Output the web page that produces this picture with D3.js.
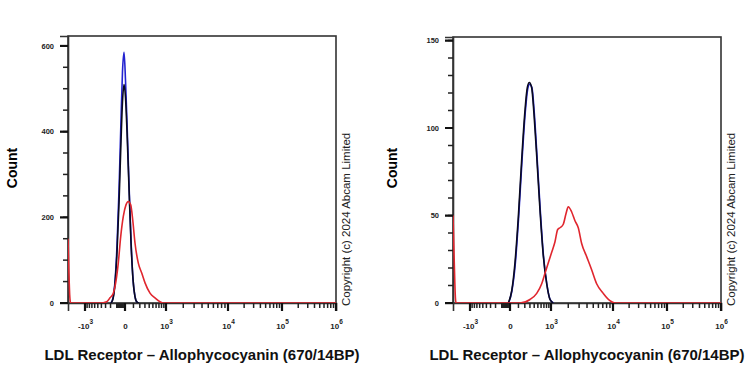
<!DOCTYPE html>
<html>
<head>
<meta charset="utf-8">
<script src="https://cdn.jsdelivr.net/npm/d3@7"></script>
<style>
  body { margin: 0; background: #fff; }
  svg { display: block; font-family: "Liberation Sans", Arial, sans-serif; }
</style>
</head>
<body>
<script>
// DATA (x = fluorescence value, y = count)
const xTickValues = [-1000, 0, 1e3, 1e4, 1e5, 1e6];
const xTickBase = ["-10", "0", "10", "10", "10", "10"];
const xTickSup = ["3", "", "3", "4", "5", "6"];

const leftYTicks = [0, 200, 400, 600];
const rightYTicks = [0, 50, 100, 150];

const leftBlue = [[-192,0],[-157,12],[-126,50],[-96,135],[-69,265],[-44,430],[-27,540],[-10,585],[5,520],[21,420],[43,280],[68,145],[94,55],[122,15],[153,2],[186,0]];
const leftBlack = [[-192,0],[-157,10],[-126,45],[-96,120],[-69,235],[-44,380],[-27,470],[-10,510],[5,480],[21,400],[43,270],[68,140],[94,55],[122,15],[153,2],[186,0]];
const leftRed = [[-2100,150],[-2030,80],[-1950,15],[-1880,0],[-437,0],[-275,3],[-210,12],[-152,23],[-126,38],[-79,93],[-48,155],[-18,202],[10,229],[35,237],[64,229],[90,194],[122,140],[174,93],[235,70],[302,47],[421,23],[565,12],[740,3],[863,0],[1e6,0]];

const rightBlue = [[-15,0],[20,7],[58,22],[101,48],[152,81],[208,109],[252,122],[293,125],[345,123],[401,109],[472,85],[570,54],[682,27],[812,11],[958,2],[1110,0]];
const rightBlack = [[-18,0],[18,7],[55,23],[98,49],[148,82],[203,110],[246,123],[287,126],[339,123],[395,108],[467,84],[565,53],[677,27],[808,11],[953,2],[1100,0]];
const rightRed = [[-2100,50],[-2000,25],[-1900,3],[-1850,0],[122,0],[301,2],[467,5.5],[621,11],[740,17],[876,23],[1030,29],[1182,35],[1320,42],[1447,43],[1649,45],[1831,51],[2000,55],[2275,52],[2574,47],[2909,43],[3294,34],[3949,26.5],[4722,19],[5640,11],[7113,5.5],[8984,1.3],[10900,0],[1e6,0]];

const xLabel = "LDL Receptor \u2013 Allophycocyanin (670/14BP)";
const yLabel = "Count";
const copyright = "Copyright (c) 2024 Abcam Limited";

// minor ticks on the biexponential axis
const xMinor = [];
[10, 100, 1000, 10000, 100000].forEach(dec => {
    for (let m = 1; m <= 9; m++) {
        const v = m * dec;
        if (dec >= 1000 && m === 1) continue;
        if (dec > 10) xMinor.push(v);
        if (dec <= 100) xMinor.push(-v);
    }
});

const svg = d3.select("body").append("svg")
    .attr("width", 750)
    .attr("height", 375);

const drawPanel = (cfg) => {
    const x = d3.scaleSymlog().constant(260)
        .domain([-2100, -1000, 0, 1e3, 1e4, 1e5, 1e6])
        .range([0, 17, 57, 98, 160, 214, 268].map(v => v + cfg.left));
    const y = d3.scaleLinear().domain([0, cfg.yMax]).range([cfg.bottom, cfg.top]);

    const g = svg.append("g");

    // frame
    g.append("rect")
        .attr("x", cfg.left).attr("y", cfg.top)
        .attr("width", cfg.right - cfg.left).attr("height", cfg.bottom - cfg.top)
        .attr("fill", "none").attr("stroke", "#333").attr("stroke-width", 1.6);

    // y axis labels
    const ya = g.append("g").attr("transform", `translate(${cfg.left},0)`)
        .call(d3.axisLeft(y).tickValues(cfg.yTicks).tickSize(8).tickPadding(6));
    ya.select(".domain").attr("stroke", "#333").attr("stroke-width", 1.6);
    ya.selectAll("text").attr("font-size", "7.5px").attr("font-weight", "bold").attr("fill", "#222");

    // x axis labels
    const xa = g.append("g").attr("transform", `translate(0,${cfg.bottom})`)
        .call(d3.axisBottom(x).tickValues(xTickValues).tickSize(8).tickPadding(12));
    xa.select(".domain").attr("stroke", "#333").attr("stroke-width", 1.6);
    xa.selectAll(".tick text").each(function (d, i) {
        const t = d3.select(this).text(null)
            .attr("font-size", "8px").attr("font-weight", "bold").attr("fill", "#222");
        t.append("tspan").text(xTickBase[i]);
        if (xTickSup[i]) t.append("tspan").attr("dy", "-5").attr("font-size", "6.5px").text(xTickSup[i]);
    });

    // curves
    const line = d3.line().x(d => x(d[0])).y(d => y(d[1])).curve(d3.curveMonotoneX);
    g.append("clipPath").attr("id", "clip" + cfg.left)
        .append("rect").attr("x", cfg.left).attr("y", cfg.top - 2)
        .attr("width", cfg.right - cfg.left).attr("height", cfg.bottom - cfg.top + 2);
    const curves = g.append("g").attr("clip-path", `url(#clip${cfg.left})`);
    [[cfg.blue, "#2323d0"], [cfg.black, "#0a0a1e"], [cfg.red, "#e0262e"]].forEach(([data, color]) => {
        curves.append("path").datum(data)
            .attr("d", line)
            .attr("fill", "none")
            .attr("stroke", color)
            .attr("stroke-width", 1.6);
    });

    // tick marks, drawn last straight onto the svg
    d3.range(0, cfg.yMax, cfg.yMinor).forEach(v => {
        svg.append("line")
            .attr("x1", cfg.left - 5).attr("x2", cfg.left)
            .attr("y1", y(v)).attr("y2", y(v))
            .attr("stroke", "#222").attr("stroke-width", 1.5);
    });
    cfg.yTicks.forEach(v => {
        svg.append("line")
            .attr("x1", cfg.left - 8).attr("x2", cfg.left)
            .attr("y1", y(v)).attr("y2", y(v))
            .attr("stroke", "#111").attr("stroke-width", 2);
    });
    xMinor.forEach(v => {
        svg.append("line")
            .attr("x1", x(v)).attr("x2", x(v))
            .attr("y1", cfg.bottom).attr("y2", cfg.bottom + 5)
            .attr("stroke", "#222").attr("stroke-width", 1.5);
    });
    xTickValues.forEach(v => {
        svg.append("line")
            .attr("x1", x(v)).attr("x2", x(v))
            .attr("y1", cfg.bottom).attr("y2", cfg.bottom + 8)
            .attr("stroke", "#111").attr("stroke-width", 2.2);
    });

    // labels
    svg.append("text")
        .attr("transform", `translate(${cfg.countX},168) rotate(-90)`)
        .attr("text-anchor", "middle").attr("dy", "0.35em")
        .attr("font-size", "14px").attr("font-weight", "bold")
        .text(yLabel);
    svg.append("text")
        .attr("x", (cfg.left + cfg.right) / 2).attr("y", 360)
        .attr("text-anchor", "middle")
        .attr("font-size", "15px").attr("font-weight", "bold").attr("fill", "#111")
        .text(xLabel);
    svg.append("text")
        .attr("transform", `translate(${cfg.right + 14},306) rotate(-90)`)
        .attr("font-size", "11.5px").attr("fill", "#222")
        .text(copyright);
};

drawPanel({left: 68, right: 336, top: 36, bottom: 303, yMax: 623, yTicks: leftYTicks, yMinor: 50,
    blue: leftBlue, black: leftBlack, red: leftRed, countX: 12});
drawPanel({left: 453, right: 721, top: 37, bottom: 303, yMax: 152, yTicks: rightYTicks, yMinor: 10,
    blue: rightBlue, black: rightBlack, red: rightRed, countX: 392});
</script>
</body>
</html>
